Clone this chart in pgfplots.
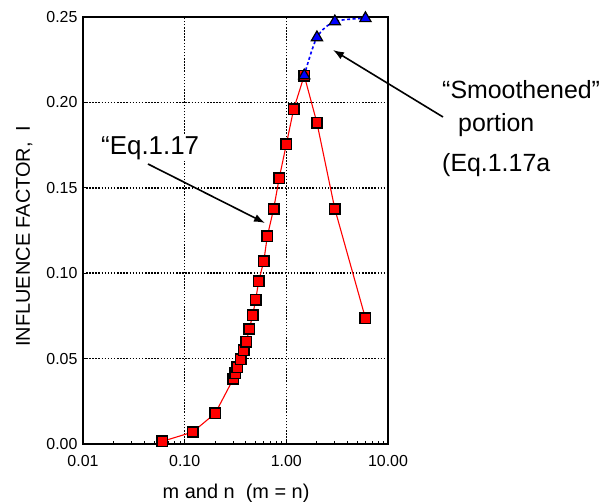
\documentclass[border=0pt]{standalone}
\usepackage{fontspec}
\setmainfont{Liberation Sans}
\usepackage{pgfplots}
\pgfplotsset{compat=1.18}
\usetikzlibrary{arrows.meta}
\begin{document}
\begin{tikzpicture}[x=1bp,y=1bp]
\path[use as bounding box] (0,0) rectangle (610,502);
\begin{axis}[
  at={(83bp,58bp)}, anchor=south west,
  scale only axis, width=305bp, height=427bp,
  xmode=log, xmin=0.01, xmax=10, ymin=0, ymax=0.25,
  xtick={0.01,0.1,1,10}, xticklabels={0.01,0.10,1.00,10.00},
  ytick={0,0.05,0.1,0.15,0.2,0.25}, yticklabels={0.00,0.05,0.10,0.15,0.20,0.25},
  minor xtick={}, 
  xtick pos=bottom, ytick pos=left,
  tick align=inside, major tick length=4bp,
  tick style={black, line width=1bp},
  ticklabel style={font=\fontsize{16}{18}\selectfont},
  xticklabel style={yshift=-8bp},
  yticklabel style={xshift=-2bp},
  xmajorgrids, ymajorgrids,
  grid style={black, line width=1.5bp, dash pattern=on 1.5bp off 1.6bp},
  axis line style={black, line width=1.3bp},
  xlabel={m and n\ \ (m = n)},
  ylabel={INFLUENCE FACTOR,\ \ I},
  label style={font=\fontsize{20}{22}\selectfont},
  xlabel style={at={(axis description cs:0.502,-0.115)}, anchor=center},
  ylabel style={at={(axis description cs:-0.193,0.487)}, anchor=center},
  clip=false,
]
\addplot[red, line width=1.1bp, mark=square*, mark size=5.2bp,
  mark options={draw=black, fill=red, line width=1.6bp, solid}] coordinates {
(0.06,0.0015) (0.12,0.007) (0.20,0.018) (0.30,0.038) (0.315,0.0414)
(0.33,0.045) (0.355,0.0496) (0.38,0.0548) (0.405,0.060) (0.432,0.0673)
(0.466,0.0753) (0.50,0.0845) (0.534,0.0952) (0.60,0.107) (0.65,0.1216)
(0.75,0.1376) (0.85,0.1555) (1.00,0.1755) (1.18,0.196) (1.50,0.2157)
(2.00,0.188) (3.00,0.1376) (6.00,0.0736)
};
\addplot[blue, line width=1.6bp, dash pattern=on 3bp off 2.5bp, smooth, tension=0.5,
  mark=triangle*, mark size=6.5bp,
  mark options={draw=black, fill=blue, line width=1.2bp, solid}] coordinates {
(1.5,0.2157) (2,0.238) (3,0.2473) (6,0.2492)
};
\end{axis}
\node[anchor=west, fill=white, inner sep=1bp, font=\fontsize{26}{28}\selectfont] at (100,354) {“Eq.1.17};
\draw[black, line width=1.6bp, -{Latex[length=11bp,width=8bp]}] (148,338) -- (265,279);
\node[anchor=west, inner sep=0pt, font=\fontsize{25}{27}\selectfont] at (442,412) {“Smoothened”};
\node[anchor=west, inner sep=0pt, font=\fontsize{25}{27}\selectfont] at (458,377) {portion};
\node[anchor=west, inner sep=0pt, font=\fontsize{25}{27}\selectfont] at (442,337) {(Eq.1.17a};
\draw[black, line width=1.6bp, -{Latex[length=11bp,width=8bp]}] (443,385) -- (333,452);
\end{tikzpicture}
\end{document}
